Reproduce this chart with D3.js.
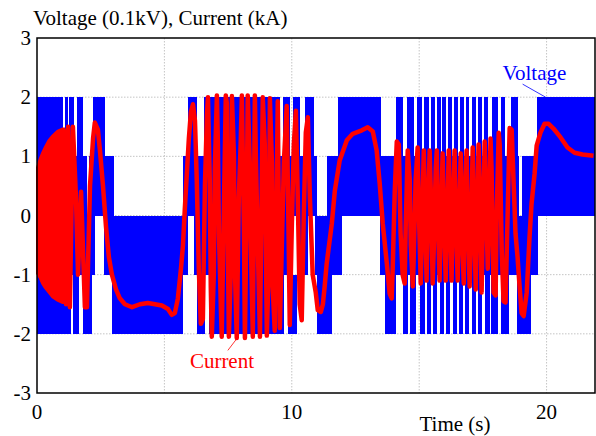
<!DOCTYPE html>
<html>
<head>
<meta charset="utf-8">
<script src="https://cdn.jsdelivr.net/npm/d3@7"></script>
<style>
  body { margin: 0; background: #fff; }
  text { font-family: "Liberation Serif", "Times New Roman", serif; }
</style>
</head>
<body>
<div id="chart"></div>
<script>
// VOLTAGE: ON-INTERVALS (s) OF EACH SWITCHING BAND
const bandTop = [ // 1 .. 2
  [0, 1.02], [1.10, 1.22], [1.25, 1.45], [1.57, 1.80], [2.20, 2.67],
  [5.92, 6.27], [6.55, 9.53], [9.65, 9.92], [10.04, 10.31], [10.51, 10.86],
  [11.80, 13.49], [14.08, 14.35], [14.51, 14.78], [14.90, 15.10], [15.18, 15.37],
  [15.45, 15.61], [15.69, 15.84], [15.88, 16.04], [16.12, 16.27], [16.35, 16.51],
  [16.59, 16.75], [16.82, 16.94], [17.06, 17.22], [17.29, 17.45], [17.53, 17.69],
  [17.84, 18.08], [18.20, 18.35], [18.59, 18.86], [19.61, 21.9]
];
const bandUpper = [ // 0 .. 1
  [0, 1.96], [2.04, 3.02], [5.73, 10.98], [11.37, 18.90], [19.02, 21.9]
];
const bandLower = [ // -1 .. 0
  [0, 2.27], [2.63, 5.92], [6.16, 9.98], [10.20, 10.63], [10.90, 11.96], [13.45, 19.65]
];
const bandBottom = [ // -2 .. -1
  [0, 1.33], [1.41, 1.65], [1.80, 2.16], [2.94, 5.73],
  [6.27, 6.59], [6.75, 9.69], [9.84, 10.20], [11.00, 11.57],
  [13.65, 14.08], [14.35, 14.55], [14.63, 14.86], [15.02, 15.22], [15.29, 15.45],
  [15.53, 15.69], [15.80, 15.96], [16.04, 16.20], [16.31, 16.47], [16.55, 16.71],
  [16.78, 16.94], [17.06, 17.22], [17.29, 17.45], [17.57, 17.76], [17.80, 18.08],
  [18.20, 18.51], [18.82, 19.37]
];
const bandLevels = [[1, 2], [0, 1], [-1, 0], [-2, -1]];

// CURRENT: FAST START-UP RIPPLE (ENVELOPE)
const denseT  = [0, 0.1, 0.2, 0.3, 0.45, 0.6, 0.8, 1.0, 1.06];
const denseHi = [0.81, 0.95, 1.06, 1.15, 1.27, 1.35, 1.43, 1.47, 1.47];
const denseLo = [-0.98, -1.05, -1.15, -1.22, -1.3, -1.38, -1.44, -1.48, -1.48];

// CURRENT: TRACE AFTER START-UP
const currentT = [
  1.06, 1.14, 1.22, 1.29, 1.41, 1.53, 1.61, 1.73, 1.88, 1.96, 2.08, 2.20, 2.27, 2.39, 2.47,
  2.59, 2.71, 2.82, 2.94, 3.10, 3.25, 3.45, 3.73, 4.04, 4.35, 4.63, 4.90, 5.14, 5.29, 5.41,
  5.53, 5.65, 5.73, 5.80, 5.88, 5.96, 6.04, 6.12, 6.20, 6.27, 6.35, 6.43, 6.51, 6.59, 6.67,
  6.71, 6.78, 6.82, 6.86, 6.94, 6.98, 7.06, 7.10, 7.14, 7.22, 7.25, 7.33, 7.41, 7.45, 7.49,
  7.53, 7.61, 7.65, 7.73, 7.76, 7.84, 7.92, 8.00, 8.04, 8.12, 8.16, 8.24, 8.27, 8.35, 8.39,
  8.47, 8.55, 8.59, 8.67, 8.75, 8.82, 8.86, 8.94, 9.02, 9.10, 9.14, 9.22, 9.25, 9.33, 9.41,
  9.45, 9.53, 9.61, 9.69, 9.80, 9.88, 9.92, 10.00, 10.08, 10.16, 10.24, 10.31, 10.39, 10.47,
  10.55, 10.63, 10.71, 10.82, 10.94, 11.02, 11.14, 11.22, 11.29, 11.37, 11.57, 11.69, 11.88,
  12.16, 12.39, 12.75, 12.98, 13.18, 13.33, 13.45, 13.57, 13.73, 13.84, 13.92, 13.96,
  14.04, 14.12, 14.20, 14.27, 14.35, 14.43, 14.47, 14.55, 14.63, 14.67, 14.75, 14.78,
  14.86, 14.94, 14.98, 15.06, 15.10, 15.18, 15.22, 15.29, 15.33, 15.41, 15.45, 15.53,
  15.57, 15.65, 15.69, 15.73, 15.80, 15.84, 15.92, 15.96, 16.04, 16.08, 16.16, 16.20,
  16.27, 16.31, 16.39, 16.43, 16.51, 16.55, 16.63, 16.67, 16.75, 16.78, 16.86, 16.90,
  16.98, 17.02, 17.10, 17.14, 17.22, 17.25, 17.33, 17.37, 17.45, 17.49, 17.57, 17.61,
  17.69, 17.73, 17.80, 17.84, 17.92, 18.00, 18.04, 18.12, 18.16, 18.24, 18.31, 18.39,
  18.47, 18.55, 18.63, 18.71, 18.78, 18.86, 18.94, 19.02, 19.10, 19.22,
  19.33, 19.41, 19.53, 19.61, 19.76, 19.92, 20.08, 20.27, 20.55, 20.82, 21.10, 21.41, 21.84
];
const currentV = [
  1.47, -1.5, 1.5, -1.55, 1.5, 0.3, -1.0, 0.4, -1.55, -1.55, 0.5, 1.3, 1.57, 1.45, 1.1,
  0.5, -0.2, -0.7, -1.0, -1.25, -1.4, -1.5, -1.55, -1.5, -1.48, -1.5, -1.52, -1.58, -1.68, -1.65,
  -1.4, -0.9, -0.5, 0.1, 0.7, 1.3, 1.75, 1.88, 1.6, 0.6, -0.9, -1.83, -1.75, 0.5, 1.7,
  2.0, 0.6, -1.2, -2.05, -1.0, 0.8, 2.03, 1.2, -0.3, -1.6, -2.05, 0.0, 2.03, 1.9, -0.5,
  -2.05, -0.9, 2.02, 1.0, -0.8, -2.07, 0.3, 1.3, 2.03, -0.2, -2.07, 0.5, 2.03, 0.9, -0.4,
  -2.05, 2.03, 1.0, -0.6, -2.05, 0.4, 2.0, 1.2, -2.03, -0.8, 1.98, 0.9, -1.2, -1.95, 0.6,
  1.93, -1.9, -0.5, 0.9, 1.85, -0.5, -1.85, -0.2, 1.2, 1.77, 0.2, -1.5, -1.77, 0.0,
  1.4, 1.66, 0.3, -1.0, -1.3, -1.6, -1.63, -1.5, -1.2, -0.81, -0.14, 0.42, 0.93,
  1.27, 1.38, 1.44, 1.49, 1.42, 1.1, 0.54, -0.14, -0.81, -1.32, -1.4, -0.9,
  0.4, 1.25, 1.2, -0.3, -1.0, -1.15, -0.2, 1.1, 0.6, -0.5, -1.2, -0.8,
  0.6, 1.15, 0.2, -1.15, -0.4, 1.1, 0.3, -1.1, -0.2, 1.1, 0.5, -1.15,
  -0.6, 0.8, 1.1, 0.0, -1.1, -0.3, 1.05, 0.2, -1.1, -0.4, 1.1, 0.3,
  -1.1, -0.2, 1.1, 0.1, -1.1, -0.3, 1.05, -0.2, -1.15, 0.2, 1.1, 0.0,
  -1.2, -0.5, 1.15, 0.2, -1.25, -0.4, 1.2, 0.5, -1.3, -0.3, 1.25, 0.6,
  -0.9, -0.2, 1.3, 0.8, -1.3, -1.35, 0.0, 1.4, 1.2, -0.6, -1.45, -1.47,
  0.0, 1.48, 1.45, 0.5, -0.3, -0.7, -1.2, -1.65, -1.7, -1.3,
  -0.37, 0.2, 0.71, 1.18, 1.4, 1.55, 1.55, 1.47, 1.32, 1.15, 1.06, 1.03, 1.01
];

// AXIS TICKS
const xTicks = [0, 10, 20];
const yTicks = [-3, -2, -1, 0, 1, 2, 3];
const xGrid = [5, 10, 15, 20];
const yGrid = [-2, -1, 0, 1, 2];

// SIZES
const width = 596, height = 436;
const plot = {left: 37, right: 595, top: 38, bottom: 393};
const fontSize = 21;

const x = d3.scaleLinear().domain([0, 21.9]).range([plot.left, plot.right]);
const y = d3.scaleLinear().domain([-3, 3]).range([plot.bottom, plot.top]);

const svg = d3.select("#chart").append("svg")
  .attr("width", width)
  .attr("height", height);

// GRID
svg.append("g").selectAll("line").data(xGrid).enter().append("line")
  .attr("x1", d => x(d)).attr("x2", d => x(d))
  .attr("y1", plot.top).attr("y2", plot.bottom)
  .attr("stroke", "#c4c4c4").attr("stroke-dasharray", "1.5,1.5");
svg.append("g").selectAll("line").data(yGrid).enter().append("line")
  .attr("x1", plot.left).attr("x2", plot.right)
  .attr("y1", d => y(d)).attr("y2", d => y(d))
  .attr("stroke", "#c4c4c4").attr("stroke-dasharray", "1.5,1.5");

// VOLTAGE BLOCKS
const bands = [bandTop, bandUpper, bandLower, bandBottom];
const voltRects = [];
bands.forEach((on, i) => {
  on.forEach(iv => voltRects.push({t0: iv[0], t1: iv[1], lo: bandLevels[i][0], hi: bandLevels[i][1]}));
});
svg.append("g").selectAll("rect").data(voltRects).enter().append("rect")
  .attr("x", d => x(d.t0))
  .attr("width", d => x(d.t1) - x(d.t0))
  .attr("y", d => y(d.hi))
  .attr("height", d => y(d.lo) - y(d.hi))
  .attr("fill", "#0000ff")
  .attr("shape-rendering", "crispEdges");

// CURRENT
const dense = denseT.map((t, i) => ({t: t, hi: denseHi[i], lo: denseLo[i]}));
svg.append("path")
  .datum(dense)
  .attr("fill", "#ff0000")
  .attr("stroke", "#ff0000")
  .attr("stroke-width", 2)
  .attr("d", d3.area().x(d => x(d.t)).y0(d => y(d.lo)).y1(d => y(d.hi)));

const current = currentT.map((t, i) => ({t: t, v: currentV[i]}));
svg.append("path")
  .datum(current)
  .attr("fill", "none")
  .attr("stroke", "#ff0000")
  .attr("stroke-width", 4.5)
  .attr("stroke-linejoin", "round")
  .attr("d", d3.line().x(d => x(d.t)).y(d => y(d.v)));

// FRAME
svg.append("rect")
  .attr("x", plot.left).attr("y", plot.top)
  .attr("width", plot.right - plot.left).attr("height", plot.bottom - plot.top)
  .attr("fill", "none").attr("stroke", "#000").attr("stroke-width", 1.5);

// TICK LABELS
svg.append("g").selectAll("text").data(yTicks).enter().append("text")
  .attr("x", plot.left - 6).attr("y", d => y(d) + 7)
  .attr("text-anchor", "end")
  .style("font-size", fontSize + "px")
  .text(d => d);
svg.append("g").selectAll("text").data(xTicks).enter().append("text")
  .attr("x", d => x(d)).attr("y", plot.bottom + 26)
  .attr("text-anchor", "middle")
  .style("font-size", fontSize + "px")
  .text(d => d);

// AXIS TITLES
svg.append("text")
  .attr("x", 33).attr("y", 25)
  .style("font-size", fontSize + "px")
  .text("Voltage (0.1kV), Current (kA)");
svg.append("text")
  .attr("x", 455).attr("y", 431)
  .attr("text-anchor", "middle")
  .style("font-size", fontSize + "px")
  .text("Time (s)");

// ANNOTATIONS
svg.append("text")
  .attr("x", x(18.27)).attr("y", y(2.29))
  .attr("fill", "#0000ff")
  .style("font-size", fontSize + "px")
  .text("Voltage");
svg.append("line")
  .attr("x1", x(19.06)).attr("y1", y(2.22))
  .attr("x2", x(19.96)).attr("y2", y(2.0))
  .attr("stroke", "#0000ff").attr("stroke-width", 0.8);

svg.append("text")
  .attr("x", x(6.0)).attr("y", y(-2.58))
  .attr("fill", "#ff0000")
  .style("font-size", fontSize + "px")
  .text("Current");
svg.append("line")
  .attr("x1", x(7.49)).attr("y1", y(-2.28))
  .attr("x2", x(7.88)).attr("y2", y(-2.06))
  .attr("stroke", "#ff0000").attr("stroke-width", 0.8);
</script>
</body>
</html>
